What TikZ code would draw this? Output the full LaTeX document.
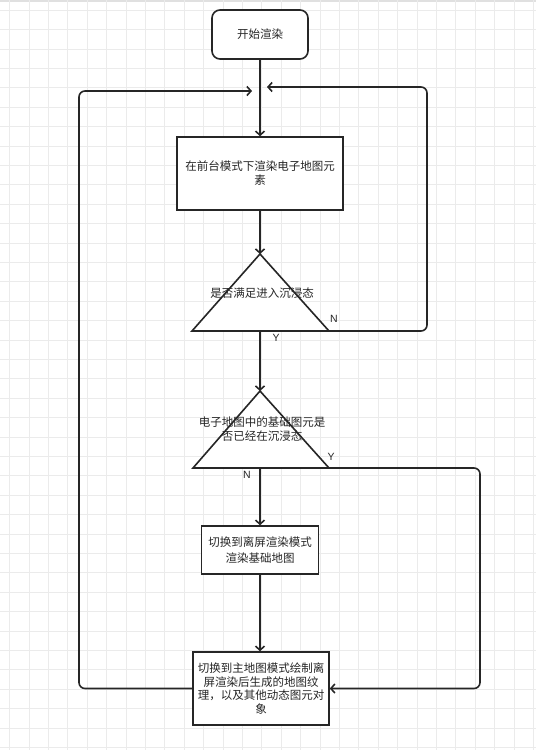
\documentclass[tikz,border=0pt]{standalone}
\usepackage{fontspec}
\newfontfamily\cjk{Noto Sans CJK SC}
\newfontfamily\lab{Liberation Sans}
\usetikzlibrary{arrows.meta}
\begin{document}
\begin{tikzpicture}[x=1pt,y=-1pt,
  gridline/.style={draw=black!8,line width=0.6pt},
  boxstyle/.style={draw=black!85,line width=1.6pt,fill=white,font=\cjk\fontsize{11.5}{14}\selectfont,text=black!85,align=center,inner sep=2pt},
  startbox/.style={boxstyle,rounded corners=8pt},
  tristyle/.style={draw=black!85,line width=1.6pt,fill=white,line join=miter},
  txt/.style={font=\cjk\fontsize{11.5}{14}\selectfont,text=black!85,align=center,inner sep=0pt},
  yn/.style={font=\lab\fontsize{10.5}{12}\selectfont,text=black!85,inner sep=0pt},
  conn/.style={draw=black!85,line width=1.6pt,rounded corners=6pt},
  arr/.style={conn,-{Straight Barb[length=4pt,width=9pt,line width=1.6pt]}}
]
\useasboundingbox (0,0) rectangle (536,750);
\fill[white] (0,0) rectangle (536,750);
\fill[black!12] (0,0) rectangle (536,2);
\foreach \i in {0,...,27} \draw[gridline] ({9.5+19.4*\i},0) -- ++(0,750);
\foreach \j in {0,...,38} \draw[gridline] (0,{10+19.4*\j}) -- ++(536,0);

% nodes
\node[startbox,minimum width=96pt,minimum height=49pt] (start) at (260,34.5) {开始渲染};
\node[boxstyle,minimum width=166pt,minimum height=73pt] (box2) at (260,173.5) {在前台模式下渲染电子地图元\\素};

\coordinate (t1top) at (260,254);
\coordinate (t1l) at (192,331);
\coordinate (t1r) at (329,331);
\coordinate (t1b) at (260,331);
\draw[tristyle] (t1top) -- (t1r) -- (t1l) -- cycle;
\node[txt] (q1) at (262,293) {是否满足进入沉浸态};

\coordinate (t2top) at (260,391);
\coordinate (t2l) at (193,468);
\coordinate (t2r) at (329,468);
\coordinate (t2b) at (260,468);
\draw[tristyle] (t2top) -- (t2r) -- (t2l) -- cycle;
\node[txt] (q2) at (262,429) {电子地图中的基础图元是\\否已经在沉浸态};

\node[boxstyle,minimum width=117pt,minimum height=48pt,font=\cjk\fontsize{11.5}{16}\selectfont] (box3) at (260,550) {切换到离屏渲染模式\\渲染基础地图};
\node[boxstyle,minimum width=136pt,minimum height=73pt,font=\cjk\fontsize{11.5}{13.5}\selectfont] (box4) at (261,688.5) {切换到主地图模式绘制离\\屏渲染后生成的地图纹\\理，以及其他动态图元对\\象};

\coordinate (la) at (252,91);
\coordinate (ra) at (267,87);

% connectors
\draw[arr] (start.south) -- (box2.north);
\draw[arr] (box2.south) -- (t1top);
\draw[arr] (t1b) -- (t2top);
\draw[arr] (t2b) -- (box3.north);
\draw[arr] (box3.south) -- (box4.north -| box3.south);
\draw[arr] (box4.west) -- (79,688.5) -- (79,91) -- (la);
\draw[arr] (t1r) -- (427,331) -- (427,87) -- (ra);
\draw[arr] (t2r) -- (480,468) -- (480,688.5) -- (box4.east);

% labels
\node[yn] (n1) at (334,319) {N};
\node[yn] (y1) at (276,338) {Y};
\node[yn] (y2) at (331,457) {Y};
\node[yn] (n2) at (247,475) {N};
\end{tikzpicture}
\end{document}
